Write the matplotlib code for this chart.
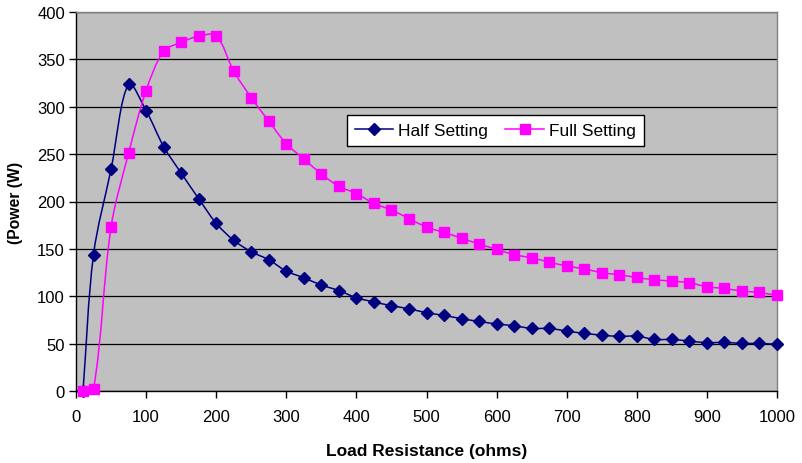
import numpy as np
import matplotlib
matplotlib.use("Agg")
import matplotlib.pyplot as plt
from matplotlib.path import Path
from matplotlib.patches import PathPatch

plt.rcParams['font.family'] = ['Liberation Sans', 'DejaVu Sans']

# Data
half_x = [10, 25, 50, 75, 100, 125, 150, 175, 200, 225, 250, 275, 300, 325, 350, 375,
          400, 425, 450, 475, 500, 525, 550, 575, 600, 625, 650, 675, 700, 725, 750,
          775, 800, 825, 850, 875, 900, 925, 950, 975, 1000]
half_y = [0, 144, 234, 324, 296, 258, 230, 203, 177, 159, 147, 138.5, 126.5, 119.5, 111.8, 106,
          98.4, 94, 90, 86.8, 82.6, 79.8, 76.3, 73.4, 70.7, 68.9, 66, 66, 63.3, 60.8, 59,
          57.6, 58, 54.4, 54.4, 52.7, 51, 51.3, 50.2, 50.2, 49.2]
full_x = [10, 25, 50, 75, 100, 125, 150, 175, 200, 225, 250, 275, 300, 325, 350, 375,
          400, 425, 450, 475, 500, 525, 550, 575, 600, 625, 650, 675, 700, 725, 750,
          775, 800, 825, 850, 875, 900, 925, 950, 975, 1000]
full_y = [0, 2, 173, 251, 317, 358.5, 368, 374.5, 375, 337.5, 309.7, 284.8, 261, 245, 229, 216,
          208.4, 198, 191, 182, 173, 167.3, 161.4, 155, 149.6, 143.8, 140.6, 136, 131.9, 129, 124.8,
          122.7, 119.8, 117.4, 116, 114.2, 110, 108.2, 105.5, 104, 100.8]
labels = ["Half Setting", "Full Setting"]
x_ticks = list(range(0, 1001, 100))
y_ticks = list(range(0, 401, 50))


def smooth_path(ax, xs, ys):
    """Smoothed line (cubic Bezier through the data points), tangents
    weighted by the on-screen chord lengths so it does not overshoot."""
    p = np.column_stack([xs, ys]).astype(float)
    s = ax.transData.transform(p)  # screen coords, for chord lengths only
    n = len(p)
    verts = [p[0]]
    codes = [Path.MOVETO]

    def tangent(i):
        if i == 0:
            return (p[1] - p[0]) / 3.0, None
        if i == n - 1:
            return None, (p[n - 1] - p[n - 2]) / 3.0
        d0 = np.linalg.norm(s[i] - s[i - 1])
        d1 = np.linalg.norm(s[i + 1] - s[i])
        t = p[i + 1] - p[i - 1]
        out = t * d1 / (d0 + d1) / 3.0
        inn = t * d0 / (d0 + d1) / 3.0
        return out, inn

    for i in range(n - 1):
        out_i = tangent(i)[0]
        in_j = tangent(i + 1)[1]
        c1 = p[i] + out_i
        c2 = p[i + 1] - in_j
        verts += [c1, c2, p[i + 1]]
        codes += [Path.CURVE4] * 3
    return Path(verts, codes)


fig = plt.figure(figsize=(8.02, 4.64), dpi=100)
ax = fig.add_axes([76 / 802, 1 - 392 / 464, (777 - 76) / 802, (392 - 13) / 464])
ax.set_facecolor('#C0C0C0')

ax.set_xlim(0, 1000)
ax.set_ylim(0, 400)
ax.set_xticks(x_ticks)
ax.set_yticks(y_ticks)
ax.yaxis.grid(True, color='black', linewidth=0.9)
ax.set_axisbelow(True)

colors = ['#000080', '#FF00FF']
markers = ['D', 's']
msizes = [6, 6.5]
for xs, ys, c, m, ms, lab in [(half_x, half_y, colors[0], markers[0], msizes[0], labels[0]),
                              (full_x, full_y, colors[1], markers[1], msizes[1], labels[1])]:
    patch = PathPatch(smooth_path(ax, xs, ys), facecolor='none', edgecolor=c, linewidth=1.1,
                      zorder=3, clip_on=False)
    ax.add_patch(patch)
    ax.plot(xs, ys, linestyle='none', marker=m, markersize=ms, color=c, markeredgecolor=c,
            zorder=4, clip_on=False)
    ax.plot([], [], color=c, marker=m, markersize=ms, linewidth=1.1, label=lab)

for s in ['top', 'right']:
    ax.spines[s].set_color('#808080')
    ax.spines[s].set_linewidth(1.0)
for s in ['left', 'bottom']:
    ax.spines[s].set_color('black')
    ax.spines[s].set_linewidth(1.0)

ax.tick_params(axis='both', direction='out', length=5, width=1, color='black',
               labelsize=12, pad=3)
ax.tick_params(axis='x', pad=8)

ax.set_xlabel('Load Resistance (ohms)', fontsize=12.5, fontweight='bold', labelpad=14)
ax.set_ylabel('(Power (W)', fontsize=11.3, fontweight='bold', labelpad=10)

leg = ax.legend(loc='upper left', bbox_to_anchor=((347 - 76) / 701, 1 - (116 - 13) / 379),
                ncol=2, frameon=True, fancybox=False, fontsize=12.5, borderaxespad=0,
                handlelength=2.2, handletextpad=0.3, columnspacing=1.0, borderpad=0.45)
leg.get_frame().set_edgecolor('black')
leg.get_frame().set_linewidth(1.0)
leg.get_frame().set_facecolor('white')
leg.get_frame().set_alpha(1)

fig.savefig('out.png', dpi=100)
